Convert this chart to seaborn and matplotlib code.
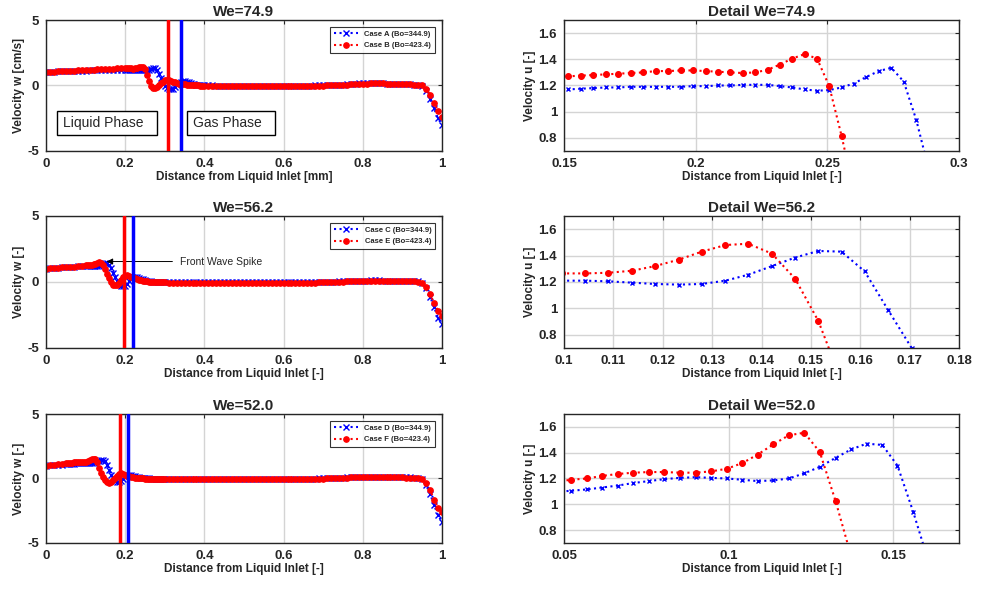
import numpy as np
import matplotlib
matplotlib.use('Agg')
import matplotlib.pyplot as plt
import seaborn as sns
from matplotlib.patches import Rectangle
from matplotlib.ticker import FuncFormatter

sns.set_style('white')
plt.rcParams['font.family'] = ['Liberation Sans', 'DejaVu Sans']

## data: overview panels (x grids are the sample positions along the channel)
x_749 = np.concatenate([np.linspace(0, 0.19, 20), np.linspace(0.2, 0.395, 40), np.linspace(0.4, 1.0, 61)])
x_562 = np.concatenate([np.linspace(0, 0.09, 10), np.linspace(0.1, 0.295, 40), np.linspace(0.3, 1.0, 71)])
x_520 = np.concatenate([np.linspace(0, 0.04, 5), np.linspace(0.05, 0.295, 50), np.linspace(0.3, 1.0, 71)])

# We=74.9, Case A (blue)
w_a = [1.00, 1.03, 1.05, 1.07, 1.08, 1.09, 1.10, 1.11, 1.12, 1.13,
       1.14, 1.15, 1.15, 1.16, 1.16, 1.17, 1.18, 1.18, 1.19, 1.19,
       1.195, 1.195, 1.20, 1.205, 1.205, 1.205, 1.20, 1.19, 1.17, 1.16,
       1.165, 1.18, 1.215, 1.265, 1.31, 1.33, 1.20, 0.90, 0.55, 0.20,
       -0.05, -0.20, -0.28, -0.30, -0.25, -0.12, 0.05, 0.20, 0.30, 0.33,
       0.32, 0.28, 0.23, 0.18, 0.14, 0.10, 0.07, 0.05, 0.03, 0.02,
       0.01, 0.00, 0.00, -0.01, -0.01, -0.02, -0.02, -0.02, -0.02, -0.02,
       -0.02, -0.02, -0.02, -0.02, -0.02, -0.02, -0.02, -0.02, -0.02, -0.02,
       -0.02, -0.02, -0.02, -0.02, -0.02, -0.01, -0.01, -0.01, 0.00, 0.00,
       0.01, 0.02, 0.03, 0.04, 0.05, 0.07, 0.09, 0.11, 0.14, 0.17,
       0.19, 0.20, 0.21, 0.20, 0.19, 0.17, 0.15, 0.13, 0.11, 0.10,
       0.09, 0.08, 0.08, 0.07, 0.05, -0.05, -0.40, -1.00, -1.75, -2.50,
       -3.00]
# We=74.9, Case B (red)
w_b = [1.00, 1.03, 1.06, 1.08, 1.10, 1.11, 1.12, 1.14, 1.15, 1.17,
       1.18, 1.20, 1.21, 1.23, 1.25, 1.27, 1.28, 1.29, 1.30, 1.31,
       1.315, 1.31, 1.305, 1.30, 1.295, 1.31, 1.34, 1.39, 1.43, 1.42,
       1.25, 0.80, 0.35, -0.05, -0.20, -0.20, -0.10, 0.05, 0.18, 0.30,
       0.40, 0.45, 0.43, 0.37, 0.30, 0.24, 0.19, 0.15, 0.12, 0.10,
       0.08, 0.06, 0.05, 0.04, 0.03, 0.02, 0.01, 0.00, -0.01, -0.02,
       -0.02, -0.03, -0.03, -0.04, -0.04, -0.04, -0.05, -0.05, -0.05, -0.05,
       -0.05, -0.05, -0.05, -0.05, -0.05, -0.05, -0.05, -0.05, -0.04, -0.04,
       -0.04, -0.04, -0.04, -0.04, -0.04, -0.04, -0.04, -0.03, -0.03, -0.02,
       -0.01, 0.00, 0.01, 0.02, 0.03, 0.04, 0.06, 0.08, 0.10, 0.12,
       0.14, 0.15, 0.16, 0.17, 0.17, 0.16, 0.15, 0.13, 0.11, 0.10,
       0.09, 0.08, 0.08, 0.07, 0.05, 0.00, -0.25, -0.70, -1.30, -1.95,
       -2.40]
# We=56.2, Case C (blue)
w_c = [1.00, 1.03, 1.06, 1.08, 1.10, 1.12, 1.14, 1.16, 1.18, 1.20,
       1.21, 1.21, 1.205, 1.195, 1.185, 1.18, 1.19, 1.23, 1.29, 1.36,
       1.42, 1.435, 1.32, 1.03, 0.70, 0.35, 0.05, -0.15, -0.28, -0.32,
       -0.28, -0.15, 0.05, 0.25, 0.38, 0.40, 0.37, 0.31, 0.25, 0.19,
       0.14, 0.10, 0.07, 0.05, 0.03, 0.02, 0.01, 0.00, -0.01, -0.01,
       -0.02, -0.02, -0.03, -0.03, -0.03, -0.03, -0.03, -0.03, -0.03, -0.03,
       -0.03, -0.03, -0.03, -0.03, -0.03, -0.03, -0.03, -0.03, -0.03, -0.03,
       -0.03, -0.03, -0.03, -0.03, -0.03, -0.03, -0.03, -0.03, -0.03, -0.03,
       -0.03, -0.03, -0.03, -0.03, -0.03, -0.02, -0.02, -0.02, -0.01, -0.01,
       0.00, 0.01, 0.02, 0.03, 0.04, 0.05, 0.06, 0.07, 0.08, 0.09,
       0.10, 0.11, 0.12, 0.12, 0.12, 0.11, 0.10, 0.09, 0.08, 0.08,
       0.07, 0.07, 0.06, 0.06, 0.04, -0.06, -0.45, -1.10, -1.90, -2.70,
       -3.20]
# We=56.2, Case E (red)
w_e = [1.00, 1.04, 1.07, 1.09, 1.11, 1.13, 1.15, 1.17, 1.20, 1.23,
       1.265, 1.265, 1.27, 1.29, 1.33, 1.39, 1.45, 1.49, 1.46, 1.32,
       1.00, 0.62, 0.30, 0.00, -0.20, -0.25, -0.20, -0.05, 0.15, 0.35,
       0.48, 0.52, 0.48, 0.40, 0.33, 0.27, 0.22, 0.17, 0.13, 0.10,
       0.07, 0.05, 0.03, 0.02, 0.01, 0.00, -0.01, -0.02, -0.02, -0.03,
       -0.03, -0.04, -0.04, -0.05, -0.05, -0.05, -0.05, -0.06, -0.06, -0.06,
       -0.06, -0.06, -0.06, -0.06, -0.06, -0.06, -0.06, -0.06, -0.06, -0.06,
       -0.06, -0.06, -0.06, -0.06, -0.06, -0.06, -0.06, -0.06, -0.06, -0.06,
       -0.06, -0.06, -0.06, -0.05, -0.05, -0.05, -0.05, -0.04, -0.04, -0.03,
       -0.02, -0.01, 0.00, 0.01, 0.02, 0.03, 0.04, 0.05, 0.06, 0.07,
       0.08, 0.09, 0.10, 0.10, 0.10, 0.10, 0.09, 0.08, 0.07, 0.07,
       0.06, 0.06, 0.05, 0.05, 0.03, -0.05, -0.35, -0.90, -1.60, -2.20,
       -2.55]
# We=52.0, Case D (blue)
w_d = [1.00, 1.02, 1.04, 1.06, 1.08,
       1.10, 1.11, 1.125, 1.14, 1.155, 1.175, 1.19, 1.205, 1.21, 1.205,
       1.20, 1.19, 1.18, 1.185, 1.21, 1.26, 1.32, 1.39, 1.45, 1.47,
       1.36, 1.05, 0.65, 0.30, 0.02, -0.18, -0.28, -0.30, -0.22, -0.05,
       0.12, 0.24, 0.28, 0.26, 0.21, 0.16, 0.12, 0.09, 0.06, 0.04,
       0.02, 0.01, 0.00, -0.01, -0.01, -0.02, -0.02, -0.02, -0.02, -0.03,
       -0.03, -0.03, -0.03, -0.03, -0.03, -0.03, -0.03, -0.03, -0.03, -0.03,
       -0.03, -0.03, -0.03, -0.03, -0.03, -0.03, -0.03, -0.03, -0.03, -0.03,
       -0.03, -0.03, -0.03, -0.03, -0.03, -0.03, -0.03, -0.03, -0.03, -0.03,
       -0.03, -0.03, -0.03, -0.03, -0.02, -0.02, -0.02, -0.01, -0.01, 0.00,
       0.01, 0.02, 0.03, 0.04, 0.05, 0.06, 0.08, 0.09, 0.10, 0.11,
       0.12, 0.13, 0.14, 0.14, 0.14, 0.13, 0.12, 0.11, 0.10, 0.09,
       0.09, 0.08, 0.08, 0.07, 0.05, -0.07, -0.50, -1.20, -2.05, -2.85,
       -3.35]
# We=52.0, Case F (red)
w_f = [1.00, 1.04, 1.08, 1.11, 1.15,
       1.18, 1.195, 1.21, 1.23, 1.24, 1.25, 1.25, 1.245, 1.245, 1.255,
       1.28, 1.33, 1.40, 1.48, 1.54, 1.53, 1.25, 0.85, 0.45, 0.10,
       -0.15, -0.30, -0.35, -0.28, -0.15, 0.00, 0.18, 0.35, 0.42, 0.38,
       0.30, 0.22, 0.16, 0.11, 0.08, 0.05, 0.03, 0.02, 0.01, 0.00,
       -0.01, -0.02, -0.03, -0.03, -0.04, -0.04, -0.04, -0.05, -0.05, -0.05,
       -0.05, -0.05, -0.05, -0.05, -0.05, -0.05, -0.05, -0.05, -0.05, -0.05,
       -0.05, -0.05, -0.05, -0.05, -0.05, -0.05, -0.05, -0.05, -0.05, -0.05,
       -0.05, -0.05, -0.05, -0.05, -0.05, -0.05, -0.05, -0.05, -0.05, -0.05,
       -0.05, -0.05, -0.05, -0.05, -0.04, -0.04, -0.04, -0.03, -0.03, -0.02,
       -0.01, 0.00, 0.01, 0.02, 0.04, 0.05, 0.06, 0.08, 0.09, 0.10,
       0.11, 0.12, 0.13, 0.13, 0.13, 0.12, 0.11, 0.10, 0.09, 0.08,
       0.08, 0.07, 0.07, 0.06, 0.04, -0.05, -0.35, -0.90, -1.65, -2.25,
       -2.60]

# interface positions (vertical lines): [blue, red]
iface_749 = [0.342, 0.309]
iface_562 = [0.219, 0.198]
iface_520 = [0.208, 0.187]

## data: detail panels
xd_749 = [0.1470, 0.1516, 0.1563, 0.1611, 0.1659, 0.1706, 0.1753, 0.1801, 0.1849, 0.1896,
          0.1943, 0.1991, 0.2039, 0.2086, 0.2132, 0.2180, 0.2227, 0.2273, 0.2320, 0.2366,
          0.2414, 0.2461, 0.2507, 0.2554, 0.2600, 0.2648, 0.2695, 0.2743, 0.2790, 0.2838,
          0.2886]
u_a_749 = [1.165, 1.17, 1.175, 1.18, 1.185, 1.185, 1.19, 1.19, 1.19, 1.19,
           1.19, 1.195, 1.195, 1.20, 1.20, 1.205, 1.205, 1.205, 1.195, 1.185,
           1.17, 1.16, 1.165, 1.185, 1.215, 1.265, 1.31, 1.335, 1.23, 0.935,
           0.55]
u_b_749 = [1.265, 1.27, 1.275, 1.28, 1.285, 1.29, 1.295, 1.30, 1.31, 1.31,
           1.315, 1.315, 1.31, 1.305, 1.30, 1.295, 1.30, 1.32, 1.36, 1.405,
           1.44, 1.405, 1.195, 0.815, 0.40]

xd_562 = [0.0995, 0.1043, 0.1090, 0.1137, 0.1184, 0.1233, 0.1279, 0.1327, 0.1373, 0.1421,
          0.1468, 0.1515, 0.1562, 0.1609, 0.1656, 0.1704, 0.1751]
u_c_562 = [1.21, 1.21, 1.205, 1.195, 1.185, 1.18, 1.185, 1.21, 1.255, 1.32,
           1.385, 1.435, 1.43, 1.28, 0.99, 0.70, 0.40]
u_e_562 = [1.265, 1.265, 1.27, 1.285, 1.32, 1.37, 1.43, 1.48, 1.49, 1.415,
           1.225, 0.905, 0.45]

xd_520 = [0.0474, 0.0521, 0.0569, 0.0616, 0.0663, 0.0711, 0.0758, 0.0805, 0.0852, 0.0900,
          0.0946, 0.0994, 0.1042, 0.1088, 0.1136, 0.1183, 0.1230, 0.1277, 0.1325, 0.1372,
          0.1419, 0.1467, 0.1513, 0.1561, 0.1608]
u_d_520 = [1.095, 1.105, 1.115, 1.13, 1.145, 1.165, 1.18, 1.195, 1.205, 1.21,
           1.205, 1.20, 1.19, 1.18, 1.185, 1.20, 1.24, 1.29, 1.36, 1.425,
           1.47, 1.46, 1.30, 0.94, 0.55]
u_f_520 = [1.175, 1.19, 1.20, 1.22, 1.235, 1.245, 1.25, 1.25, 1.245, 1.245,
           1.255, 1.275, 1.32, 1.385, 1.465, 1.535, 1.555, 1.405, 1.025, 0.60]

BLUE = '#0000FF'
RED = '#FF0000'

fig = plt.figure(figsize=(9.83, 5.90), dpi=100)
rows = [(0.7441, 0.2220), (0.4102, 0.2237), (0.0797, 0.2186)]
left_axes = [fig.add_axes([0.0468, b, 0.4028, h]) for b, h in rows]
right_axes = [fig.add_axes([0.5738, b, 0.4018, h]) for b, h in rows]

gfmt = FuncFormatter(lambda v, p: '%g' % round(v, 4))

blue_kw = dict(color=BLUE, linestyle=':', linewidth=1.5, marker='x',
               markeredgecolor=BLUE, markeredgewidth=1.0, sort=False)
red_kw = dict(color=RED, linestyle=':', linewidth=1.5, marker='o',
              markeredgecolor=RED, markerfacecolor=RED, markeredgewidth=0.8, sort=False)


def matlab_style(ax):
    ax.grid(True, color='#d4d4d4', linewidth=1.0)
    ax.set_axisbelow(True)
    for s in ax.spines.values():
        s.set_color('#262626')
        s.set_linewidth(1.0)
        s.set_visible(True)
    ax.tick_params(direction='in', length=3, width=0.8, top=True, right=True,
                   labelsize=9.5, colors='#262626', pad=5)
    for lab in ax.get_xticklabels() + ax.get_yticklabels():
        lab.set_fontweight('bold')
    ax.xaxis.set_major_formatter(gfmt)
    ax.yaxis.set_major_formatter(gfmt)


overview = [
    ('We=74.9', x_749, w_a, w_b, 'Case A (Bo=344.9)', 'Case B (Bo=423.4)', iface_749,
     'Velocity w [cm/s]', 'Distance from Liquid Inlet [mm]'),
    ('We=56.2', x_562, w_c, w_e, 'Case C (Bo=344.9)', 'Case E (Bo=423.4)', iface_562,
     'Velocity w [-]', 'Distance from Liquid Inlet [-]'),
    ('We=52.0', x_520, w_d, w_f, 'Case D (Bo=344.9)', 'Case F (Bo=423.4)', iface_520,
     'Velocity w [-]', 'Distance from Liquid Inlet [-]'),
]

for ax, (title, xs, wb, wr, lb, lr, iface, ylab, xlab) in zip(left_axes, overview):
    sns.lineplot(x=xs, y=wb, ax=ax, markersize=4, label=lb, **blue_kw)
    sns.lineplot(x=xs, y=wr, ax=ax, markersize=4, label=lr, **red_kw)
    ax.axvline(iface[0], color=BLUE, linewidth=2.5, zorder=5)
    ax.axvline(iface[1], color=RED, linewidth=2.5, zorder=5)
    ax.set_xlim(0, 1)
    ax.set_ylim(-5, 5)
    ax.set_xticks([0, 0.2, 0.4, 0.6, 0.8, 1])
    ax.set_yticks([-5, 0, 5])
    ax.set_title(title, fontsize=11, fontweight='bold', pad=3)
    ax.set_xlabel(xlab, fontsize=8.5, fontweight='bold', labelpad=1)
    ax.set_ylabel(ylab, fontsize=8.5, fontweight='bold', labelpad=2)
    leg = ax.legend(loc='upper right', prop={'size': 5.5, 'weight': 'bold'},
                    frameon=True, fancybox=False, edgecolor='black',
                    borderaxespad=0.9, handlelength=3.2, labelspacing=0.5,
                    borderpad=0.5)
    leg.get_frame().set_linewidth(0.8)
    matlab_style(ax)

# phase boxes and annotation
ax = left_axes[0]
ax.add_patch(Rectangle((0.028, -3.78), 0.252, 1.83, facecolor='white',
                       edgecolor='black', linewidth=1.0, zorder=6))
ax.text(0.043, -2.86, 'Liquid Phase', fontsize=10, va='center', ha='left', zorder=7)
ax.add_patch(Rectangle((0.356, -3.78), 0.222, 1.83, facecolor='white',
                       edgecolor='black', linewidth=1.0, zorder=6))
ax.text(0.370, -2.86, 'Gas Phase', fontsize=10, va='center', ha='left', zorder=7)

left_axes[1].annotate('Front Wave Spike', xy=(0.153, 1.55), xytext=(0.338, 1.55),
                      fontsize=7.5, va='center', ha='left',
                      arrowprops=dict(arrowstyle='-|>', color='black', lw=0.7,
                                      mutation_scale=9, shrinkA=3, shrinkB=0))

detail = [
    ('Detail We=74.9', xd_749, u_a_749, u_b_749, (0.15, 0.3), [0.15, 0.2, 0.25, 0.3]),
    ('Detail We=56.2', xd_562, u_c_562, u_e_562, (0.1, 0.18),
     [0.1, 0.11, 0.12, 0.13, 0.14, 0.15, 0.16, 0.17, 0.18]),
    ('Detail We=52.0', xd_520, u_d_520, u_f_520, (0.05, 0.17), [0.05, 0.1, 0.15]),
]

for ax, (title, xs, ub, ur, xl, xt) in zip(right_axes, detail):
    sns.lineplot(x=xs[:len(ub)], y=ub, ax=ax, markersize=3.5, **blue_kw)
    sns.lineplot(x=xs[:len(ur)], y=ur, ax=ax, markersize=4.2, **red_kw)
    ax.set_xlim(*xl)
    ax.set_ylim(0.7, 1.7)
    ax.set_xticks(xt)
    ax.set_yticks([0.8, 1.0, 1.2, 1.4, 1.6])
    ax.set_title(title, fontsize=11, fontweight='bold', pad=3)
    ax.set_xlabel('Distance from Liquid Inlet [-]', fontsize=8.5, fontweight='bold', labelpad=1)
    ax.set_ylabel('Velocity u [-]', fontsize=8.5, fontweight='bold', labelpad=2)
    if ax.get_legend() is not None:
        ax.get_legend().remove()
    matlab_style(ax)

fig.savefig('out.png', dpi=100, facecolor='white')
